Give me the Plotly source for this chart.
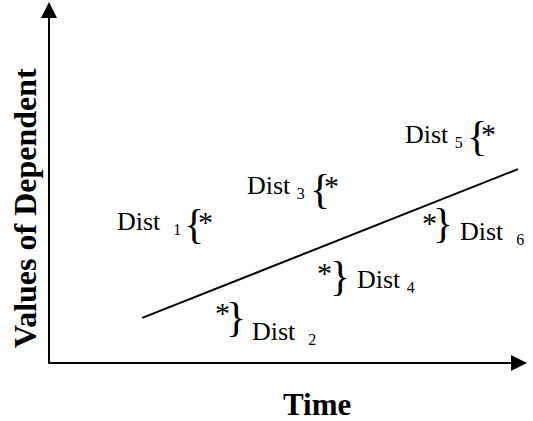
import plotly.graph_objects as go

# ---------------- data (abstract units: time 0..10, value 0..10) ----------------
trend_time = [1.95, 9.81]
trend_value = [1.25, 5.37]

dist_names = ["Dist", "Dist", "Dist", "Dist", "Dist", "Dist"]
dist_index = ["1", "2", "3", "4", "5", "6"]
star_time = [3.28, 3.62, 5.92, 5.77, 9.20, 7.97]
star_value = [4.04, 1.52, 5.04, 2.63, 6.48, 3.99]
brace_chars = ["{", "}", "{", "}", "{", "}"]
brace_time = [3.03, 3.91, 5.67, 6.09, 8.95, 8.24]
brace_value = [3.74, 1.16, 4.71, 2.30, 6.18, 3.77]
label_time = [1.38, 4.21, 4.10, 6.40, 7.41, 8.56]
label_value = [3.91, 0.86, 4.93, 2.30, 6.34, 3.63]
label_gap = [2, 2, 1, 1, 1, 2]   # number of spaces before the subscript

x_title = "Time"
y_title = "Values of Dependent"

# ---------------- figure ----------------
W, H = 533, 421
FONT = "Liberation Serif"
px_x = 47.8   # pixels per time unit
px_y = 36.1   # pixels per value unit
x0_px, y0_px = 49, 363

x_range = [-x0_px / px_x, (W - x0_px) / px_x]
y_range = [-(H - y0_px) / px_y, y0_px / px_y]

fig = go.Figure()

fig.add_trace(go.Scatter(
    x=trend_time, y=trend_value, mode="lines",
    line=dict(color="black", width=2), hoverinfo="skip", showlegend=False,
))

ann = []
# axes with arrow heads
ann.append(dict(x=10, y=0, ax=-2 / px_x, ay=0, xref="x", yref="y", axref="x", ayref="y",
                text="", showarrow=True, arrowhead=2, arrowsize=1.6, arrowwidth=2,
                arrowcolor="black", standoff=0))
ann.append(dict(x=0, y=10, ax=0, ay=-2 / px_y, xref="x", yref="y", axref="x", ayref="y",
                text="", showarrow=True, arrowhead=2, arrowsize=1.6, arrowwidth=2,
                arrowcolor="black", standoff=0))

for i in range(len(dist_names)):
    ann.append(dict(x=star_time[i], y=star_value[i], xref="x", yref="y", text="*",
                    showarrow=False, xanchor="center", yanchor="middle", yshift=-4,
                    font=dict(family=FONT, size=30, color="black")))
    ann.append(dict(x=brace_time[i], y=brace_value[i], xref="x", yref="y",
                    text=brace_chars[i], showarrow=False, xanchor="center",
                    yanchor="middle", yshift=4,
                    font=dict(family=FONT, size=42, color="black")))
    gap = "\u00a0" * label_gap[i]
    ann.append(dict(x=label_time[i], y=label_value[i], xref="x", yref="y",
                    text=f"{dist_names[i]}{gap}<sub><span style='font-size:16px'>{dist_index[i]}</span></sub>",
                    showarrow=False, xanchor="left",
                    yanchor="middle", yshift=-1,
                    font=dict(family=FONT, size=26, color="black")))

ann.append(dict(x=317 / W, y=1 - 404 / H, xref="paper", yref="paper", text=f"<b>{x_title}</b>",
                showarrow=False, xanchor="center", yanchor="middle",
                font=dict(family=FONT, size=31, color="black")))
ann.append(dict(x=25 / W, y=1 - 208 / H, xref="paper", yref="paper", text=f"<b>{y_title}</b>",
                showarrow=False, xanchor="center", yanchor="middle", textangle=-90,
                font=dict(family=FONT, size=32, color="black")))

fig.update_layout(
    width=W, height=H, margin=dict(l=0, r=0, t=0, b=0),
    paper_bgcolor="white", plot_bgcolor="white",
    xaxis=dict(range=x_range, visible=False, fixedrange=True),
    yaxis=dict(range=y_range, visible=False, fixedrange=True),
    annotations=ann, showlegend=False,
)

fig.write_html("out.html", config={"displayModeBar": False},
               post_script="document.body.style.margin='0';document.body.style.overflow='hidden';")
